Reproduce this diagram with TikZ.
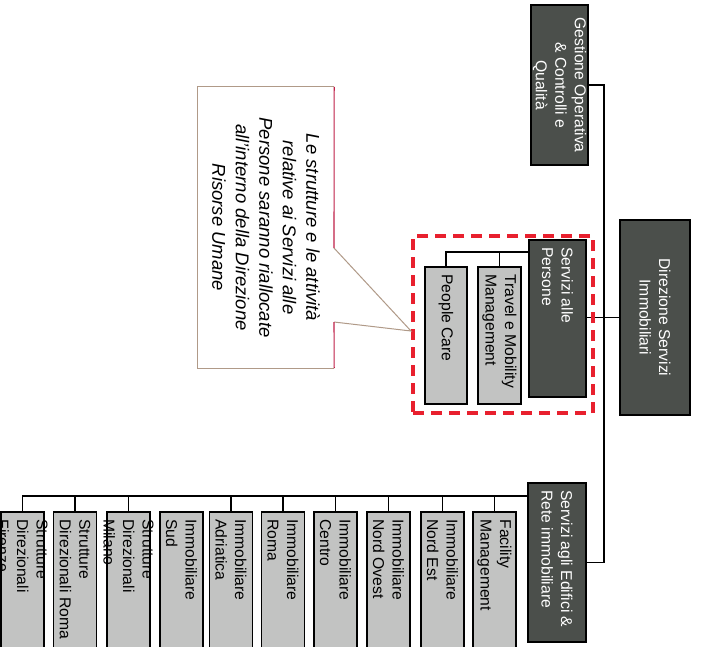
\documentclass[tikz,border=0pt]{standalone}
\usepackage{fontspec}
\setmainfont{Liberation Sans}
\definecolor{darkfill}{HTML}{4B4F4B}
\definecolor{lightfill}{HTML}{C2C3C2}
\definecolor{selred}{HTML}{E8202E}
\definecolor{callred}{HTML}{C02048}
\definecolor{calltan}{HTML}{B09A88}
\begin{document}
\begin{tikzpicture}[x=1pt,y=-1pt,
  dbox/.style={draw=black,line width=1.6pt,fill=darkfill,inner sep=0pt},
  lbox/.style={draw=black,line width=1.6pt,fill=lightfill,inner sep=0pt,minimum width=43pt,minimum height=190pt},
  wtxt/.style={rotate=-90,text=white,font=\fontsize{15.7}{19.5}\selectfont,inner xsep=8pt,inner ysep=0pt},
  btxt/.style={rotate=-90,text=black,font=\fontsize{15.7}{19.5}\selectfont,inner xsep=8pt,inner ysep=0pt,align=left,anchor=west},
  conn/.style={draw=black,line width=1.4pt}]
\useasboundingbox (0,0) rectangle (701,646);
\fill[white] (0,0) rectangle (701,646);

% main boxes
\node[dbox,minimum width=57pt,minimum height=160pt] (gest) at (559.5,85) {};
\node[dbox,minimum width=70pt,minimum height=195pt] (dir) at (655,317.5) {};
\node[dbox,minimum width=57pt,minimum height=157pt] (sap) at (557.5,318.5) {};
\node[dbox,minimum width=58pt,minimum height=159pt] (sae) at (557,562.5) {};

% children of Servizi alle Persone
\node[lbox,minimum width=43pt,minimum height=137pt] (tm) at (499.5,335.5) {};
\node[lbox,minimum width=42pt,minimum height=137pt] (pc) at (446,335.5) {};

% children of Servizi agli Edifici
\node[lbox] (fac) at (494.5,607) {};
\node[lbox] (ne) at (442.5,607) {};
\node[lbox] (no) at (388.5,607) {};
\node[lbox] (cen) at (335.5,607) {};
\node[lbox] (rom) at (283,607) {};
\node[lbox] (adr) at (231,607) {};
\node[lbox] (sud) at (181.5,607) {};
\node[lbox] (mil) at (128.5,607) {};
\node[lbox] (sdr) at (75,607) {};
\node[lbox] (fir) at (22.5,607) {};

% texts
\node[wtxt,align=center,inner xsep=0pt] (t-gest) at (gest.center) {Gestione Operativa\\\& Controlli e\\Qualità};
\node[wtxt,align=center,inner xsep=0pt] (t-dir) at (dir.center) {Direzione Servizi\\Immobiliari};
\node[wtxt,align=left,anchor=west] (t-sap) at (sap.north) {Servizi alle\\Persone};
\node[wtxt,align=left,anchor=west] (t-sae) at (sae.north) {Servizi agli Edifici \&\\Rete immobiliare};
\node[btxt] (t-tm) at (tm.north) {Travel e Mobility\\Management};
\node[btxt] (t-pc) at (pc.north) {People Care};
\node[btxt] (t-fac) at (fac.north) {Facility\\Management};
\node[btxt] (t-ne) at (ne.north) {Immobiliare\\Nord Est};
\node[btxt] (t-no) at (no.north) {Immobiliare\\Nord Ovest};
\node[btxt] (t-cen) at (cen.north) {Immobiliare\\Centro};
\node[btxt] (t-rom) at (rom.north) {Immobiliare\\Roma};
\node[btxt] (t-adr) at (adr.north) {Immobiliare\\Adriatica};
\node[btxt] (t-sud) at (sud.north) {Immobiliare\\Sud};
\node[btxt] (t-mil) at (mil.north) {Strutture\\Direzionali\\Milano};
\node[btxt] (t-sdr) at (sdr.north) {Strutture\\Direzionali Roma};
\node[btxt] (t-fir) at (fir.north) {Strutture\\Direzionali\\Firenze};

% connectors
\coordinate (spx) at (604,0);
\coordinate (sapy) at (0,252);
\coordinate (saey) at (0,496);
\draw[conn] (gest.east) -| (spx |- sae.east) -- (sae.east);
\draw[conn] (dir.west) -- (dir.west -| sap.east);
\draw[conn] (pc.north) |- (sap.west |- sapy);
\draw[conn] (tm.north) -- (tm.north |- sapy);
\draw[conn] (fir.north) |- (sae.west |- saey);
\foreach \n in {fac,ne,no,cen,rom,adr,mil,sdr}
  \draw[conn] (\n.north) -- (\n.north |- saey);

% selection frame
\node[draw=selred,line width=3.2pt,dash pattern=on 11pt off 7pt,minimum width=180pt,minimum height=177pt,inner sep=0pt] (sel) at (503,324.5) {};

% callout
\node[fill=white,minimum width=136pt,minimum height=281pt,inner sep=0pt] (call) at (266,227.5) {};
\coordinate (pa) at (334,248);
\coordinate (pb) at (334,322);
\coordinate (tip) at (411,331);
\fill[white] (pa) -- (tip) -- (pb) -- cycle;
\draw[calltan,line width=1pt] (call.north east) -- (call.north west) -- (call.south west) -- (call.south east);
\draw[calltan,line width=1pt] (pa) -- (tip) -- (pb);
\draw[callred,line width=1.1pt] (call.north east) -- (pa);
\draw[callred,line width=1.1pt] (pb) -- (call.south east);
\node[rotate=-90,font=\itshape\fontsize{18.5}{23.5}\selectfont,align=center,inner sep=0pt] (t-call) at (call.center) {Le strutture e le attività\\relative ai Servizi alle\\Persone saranno riallocate\\all'interno della Direzione\\Risorse Umane};
\end{tikzpicture}
\end{document}
